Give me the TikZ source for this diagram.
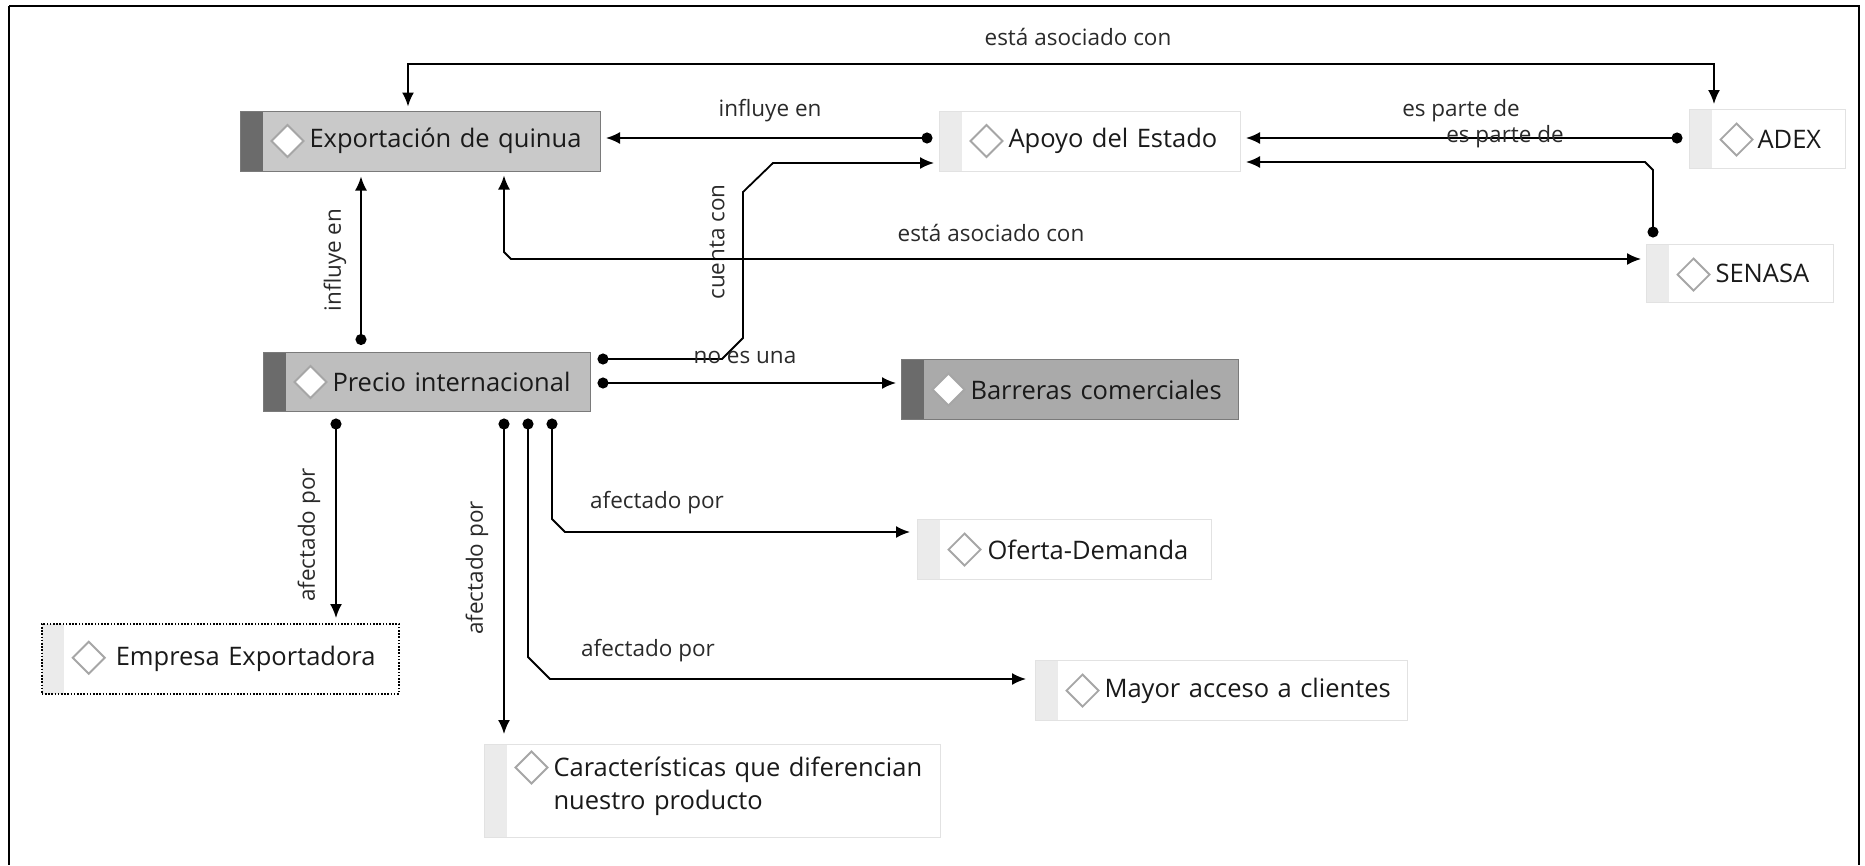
\documentclass[tikz,border=0pt]{standalone}
\usepackage{fontspec}
\setmainfont{Open Sans}
\usetikzlibrary{arrows.meta,calc}

\definecolor{stripedark}{HTML}{6B6B6B}
\definecolor{stripelight}{HTML}{EBEBEB}
\definecolor{fillA}{HTML}{C9C9C9}
\definecolor{fillB}{HTML}{BEBEBE}
\definecolor{fillC}{HTML}{AAAAAA}
\definecolor{grayedge}{HTML}{7A7A7A}
\definecolor{paleedge}{HTML}{E2E2E2}
\definecolor{diaedge}{HTML}{A6A6A6}
\definecolor{inktext}{HTML}{1A1A1A}
\definecolor{labeltext}{HTML}{2A2A2A}

% side stripe and diamond icon of a concept box
% #1 stripe colour, #2 diamond fill, #3 depth of the diamond centre below the top edge
\newcommand\conceptmarks[3]{%
  \fill[#1] (path picture bounding box.north west) rectangle ($(path picture bounding box.south west)+(22,0)$);
  \draw[solid, line width=1.8pt, draw=diaedge, fill=#2, line join=miter]
    ($(path picture bounding box.north west)+(31,#3)$) -- ++(16,-16) -- ++(16,16) -- ++(-16,16) -- cycle;
}
% concept text, indented past the stripe and the icon
\newcommand\ctext[2]{\leftskip=#1pt\relax #2\par}

\begin{document}
\begin{tikzpicture}[x=1pt,y=-1pt,
  concept/.style={anchor=north west, inner sep=0pt, align=left, text=inktext,
    font=\fontsize{25.5}{33}\selectfont, line width=1pt},
  shaded/.style={concept, fill=#1, draw=grayedge,
    path picture={\conceptmarks{stripedark}{white}{30}}},
  plain/.style={concept, fill=white, draw=paleedge,
    path picture={\conceptmarks{stripelight}{white}{#1}}},
  plain/.default=30,
  link/.style={line width=1.8pt, draw=black, line join=miter},
  dotarrow/.style={link, {Circle[length=11pt]}-{Latex[length=14pt,width=12pt]},
    shorten <=6.5pt, shorten >=5pt},
  biarrow/.style={link, {Latex[length=14pt,width=12pt]}-{Latex[length=14pt,width=12pt]},
    shorten <=4pt, shorten >=5pt},
  linklabel/.style={inner sep=0pt, text=labeltext, font=\fontsize{22.5}{26}\selectfont},
]
\useasboundingbox (0,0) rectangle (1865,865);

% frame
\draw[line width=2.6pt] (9,6) -- (1860,6);
\draw[line width=1.2pt] (9,6) -- (9,865);
\draw[line width=1.2pt] (1859,6) -- (1859,865);

% concepts
\node[shaded=fillA, text width=360pt, minimum height=60pt] (exp) at (240,110.5)
  {\ctext{69}{Exportación de quinua}};
\node[plain, text width=301pt, minimum height=60pt] (apoyo) at (939,110.5)
  {\ctext{69}{Apoyo del Estado}};
\node[plain, text width=156pt, minimum height=59pt] (adex) at (1689,109)
  {\ctext{68}{ADEX}};
\node[plain, text width=187pt, minimum height=58pt] (senasa) at (1646,244)
  {\ctext{69}{SENASA}};
\node[shaded=fillB, text width=327pt, minimum height=59.5pt] (precio) at (263,351.5)
  {\ctext{69}{Precio internacional}};
\node[shaded=fillC, text width=337pt, minimum height=60pt] (barreras) at (901,359)
  {\ctext{69}{Barreras comerciales}};
\node[plain, text width=294pt, minimum height=60pt] (oferta) at (917,519)
  {\ctext{70}{Oferta-Demanda}};
\node[plain, text width=372pt, minimum height=60pt] (mayor) at (1035,660)
  {\ctext{69}{Mayor acceso a clientes}};
\node[concept, fill=white, draw=black, line width=1.5pt, dash pattern=on 1.6pt off 1.6pt,
  text width=357pt, minimum height=70pt,
  path picture={\conceptmarks{stripelight}{white}{34}}] (empresa) at (41,623)
  {\ctext{74}{Empresa Exportadora}};
\node[plain=23, text width=456pt, minimum height=93pt] (caract) at (484,744)
  {\ctext{69}{Características que diferencian\\nuestro producto}\vspace{9pt}};

% links
\draw[biarrow] (exp.north -| 408,0) -- (408,64) -- (1714,64) -- (adex.north -| 1714,0);
\node[linklabel] (l-asoc1) at (1078,37) {está asociado con};

\draw[dotarrow] (apoyo.west |- 0,138) -- (exp.east |- 0,138);
\node[linklabel] (l-influ1) at (770,111) {influye en};

\draw[dotarrow] (precio.east |- 0,359) -- (722,359) -- (743,338) -- (743,192)
  -- (773,163) -- (apoyo.west |- 0,163);
\node[linklabel, rotate=90] (l-cuenta) at (717,242) {cuenta con};

\draw[dotarrow] (precio.east |- 0,383) -- (barreras.west |- 0,383);
\node[linklabel] (l-noes) at (745,357) {no es una};

\draw[dotarrow] (precio.north -| 361,0) -- (exp.south -| 361,0);
\node[linklabel, rotate=90] (l-influ2) at (335,260) {influye en};

\draw[biarrow] (exp.south -| 504,0) -- (504,252) -- (511,259) -- (senasa.west |- 0,259);
\node[linklabel] (l-asoc2) at (991,233) {está asociado con};

\draw[dotarrow] (adex.west |- 0,138) -- (apoyo.east |- 0,138);
\node[linklabel] (l-parte1) at (1461,111) {es parte de};

\draw[dotarrow] (senasa.north -| 1653,0) -- (1653,170) -- (1645,162) -- (apoyo.east |- 0,162);
\node[linklabel] (l-parte2) at (1505,137) {es parte de};

\draw[dotarrow] (precio.south -| 336,0) -- (empresa.north -| 336,0);
\node[linklabel, rotate=90] (l-afec1) at (309,535) {afectado por};

\draw[dotarrow, shorten >=10pt] (precio.south -| 504,0) -- (caract.north -| 504,0);
\node[linklabel, rotate=90] (l-afec2) at (477,568) {afectado por};

\draw[dotarrow, shorten >=9pt] (precio.south -| 528,0) -- (528,657) -- (550,679) -- (mayor.west |- 0,679);
\node[linklabel] (l-afec3) at (648,651) {afectado por};

\draw[dotarrow, shorten >=7pt] (precio.south -| 552,0) -- (552,519) -- (565,532) -- (oferta.west |- 0,532);
\node[linklabel] (l-afec4) at (657,503) {afectado por};
\end{tikzpicture}
\end{document}
